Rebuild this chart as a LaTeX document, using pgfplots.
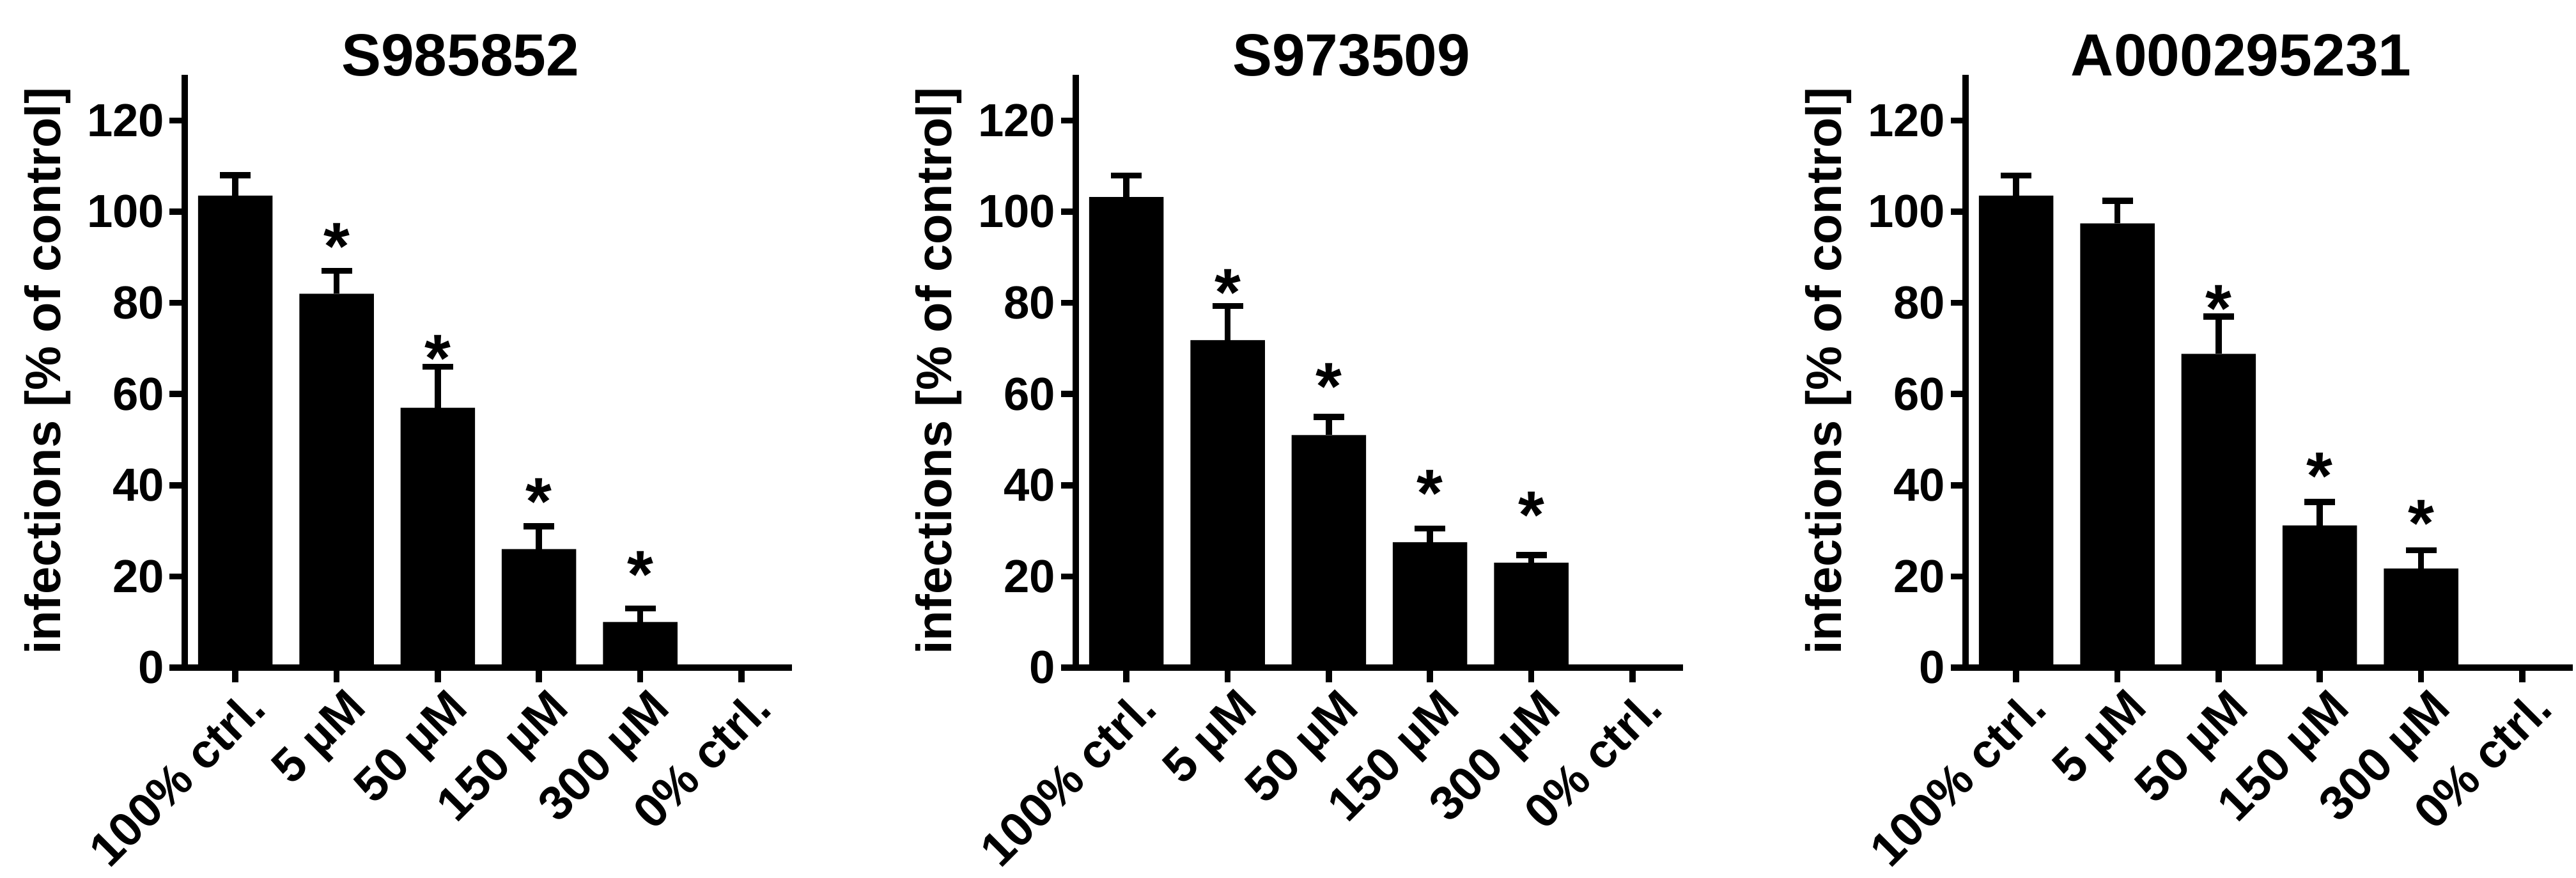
\documentclass[border=0pt]{standalone}
\usepackage{pgfplots}
\pgfplotsset{compat=1.18}
\usepackage{fontspec}
\setmainfont{Liberation Sans}

\pgfplotsset{
  panel/.style={
    width=190pt, height=185.4pt, scale only axis,
    xmin=-0.5, xmax=5.5, ymin=0, ymax=130,
    axis x line*=bottom, axis y line*=left,
    axis line style={line width=1.9pt},
    x axis line style={shorten <=-4.7pt},
    xtick={0,...,5},
    xticklabels={100\% ctrl.,5 µM,50 µM,150 µM,300 µM,0\% ctrl.},
    ytick={0,20,...,120},
    tick align=outside, major tick length=4.7pt,
    tick style={line width=1.9pt, black},
    tick label style={font=\bfseries\fontsize{14.5}{14.5}\selectfont},
    /pgf/number format/assume math mode=true,
    xticklabel style={font=\bfseries\fontsize{15}{15}\selectfont,
      xshift=2.5pt, yshift=-1pt, rotate=45, anchor=north east, inner sep=0pt},
    yticklabel style={inner sep=1.5pt},
    ylabel={infections [\% of control]},
    ylabel style={font=\bfseries\fontsize{15.5}{15.5}\selectfont,
      at={(axis description cs:-0.226,0.5)}, anchor=center},
    title style={font=\bfseries\fontsize{18.6}{18.6}\selectfont,
      at={(axis description cs:0.454,1)}, anchor=center},
  },
  bars/.style={ybar, bar width=23.3pt, fill=black, draw=none,
    error bars/y dir=plus, error bars/y explicit,
    error bars/error bar style={line width=1.9pt, black},
    error bars/error mark options={rotate=90, mark size=4.8pt, line width=1.9pt, black}},
  stars/.style={draw=none, mark=none, nodes near coords={*},
    every node near coord/.append style={font=\bfseries\fontsize{21}{21}\selectfont,
      inner sep=0pt, anchor=south, yshift=-12pt}},
}

\begin{document}
\begin{tikzpicture}
\useasboundingbox (-57.8pt,-65.8pt) rectangle (748.2pt,208.8pt);

% S985852
\begin{axis}[panel, title={S985852}]
\addplot[bars] coordinates {
  (0,103.5) +- (0,4.5)
  (1,82) +- (0,5)
  (2,57) +- (0,9)
  (3,26) +- (0,5)
  (4,10) +- (0,3)
  (5,0) +- (0,0)
};
\addplot[stars] coordinates {(1,95.5) (2,71) (3,39.6) (4,23.6)};
\end{axis}

% S973509
\begin{axis}[panel, at={(278.8pt,0pt)}, title={S973509}]
\addplot[bars] coordinates {
  (0,103.2) +- (0,4.7)
  (1,71.8) +- (0,7.5)
  (2,51) +- (0,4)
  (3,27.5) +- (0,3)
  (4,23) +- (0,1.7)
  (5,0) +- (0,0)
};
\addplot[stars] coordinates {(1,85.5) (2,64.8) (3,41.5) (4,36.7)};
\end{axis}

% A000295231
\begin{axis}[panel, at={(557.2pt,0pt)}, title={A000295231}]
\addplot[bars] coordinates {
  (0,103.5) +- (0,4.4)
  (1,97.4) +- (0,5)
  (2,68.8) +- (0,8.2)
  (3,31.2) +- (0,5.1)
  (4,21.7) +- (0,4)
  (5,0) +- (0,0)
};
\addplot[stars] coordinates {(2,81.9) (3,45.2) (4,34.8)};
\end{axis}
\end{tikzpicture}
\end{document}
